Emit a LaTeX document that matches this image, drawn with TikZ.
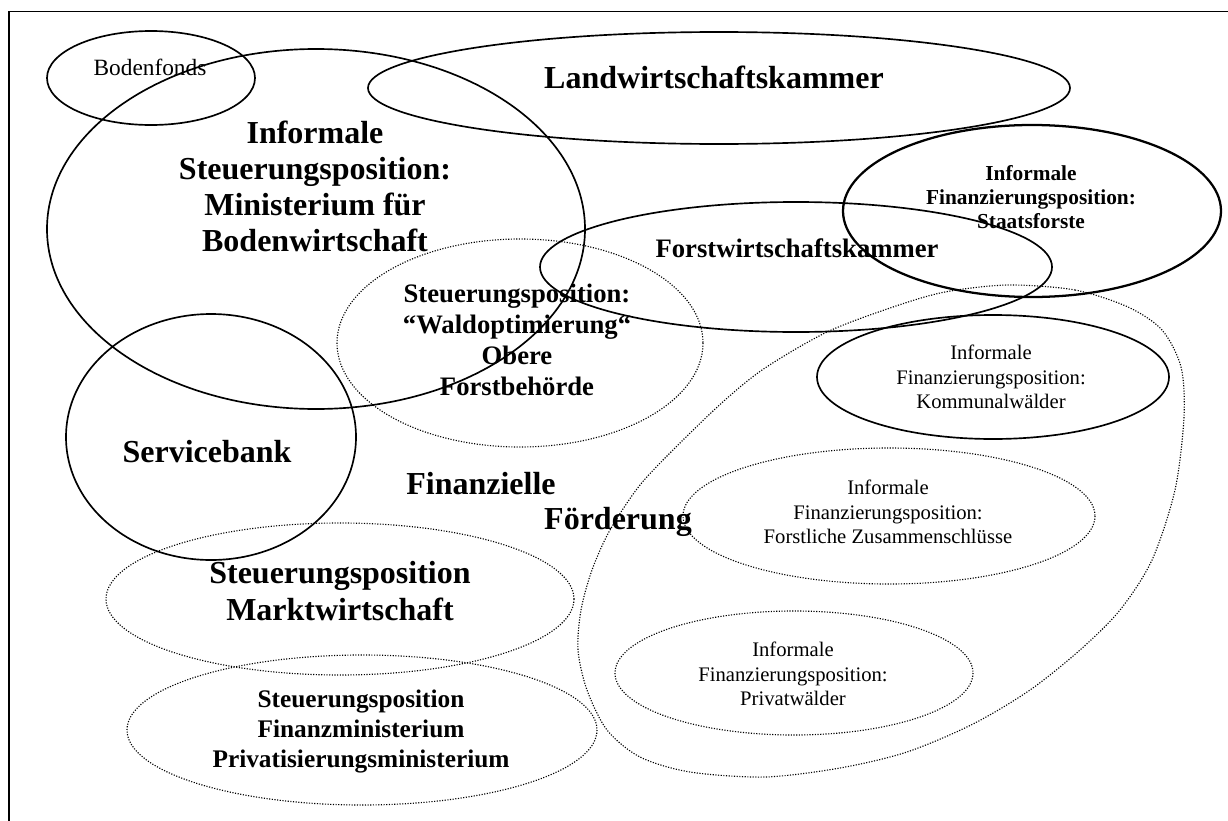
\documentclass[tikz,border=0pt]{standalone}
\usepackage{fontspec}
\setmainfont{Liberation Serif}
\begin{document}
\begin{tikzpicture}[x=0.75pt,y=-0.75pt,
  solidline/.style={line width=1.25pt},
  thickline/.style={line width=1.7pt},
  dotline/.style={line width=0.85pt, dash pattern=on 0.85pt off 1.15pt},
  lbl/.style={align=center, inner sep=0pt},
  bigbold/.style={lbl, font=\fontsize{24}{27}\selectfont\bfseries},
  midbold/.style={lbl, font=\fontsize{20}{23.25}\selectfont\bfseries},
  smallbold/.style={lbl, font=\fontsize{16}{18}\selectfont\bfseries},
  smallreg/.style={lbl, font=\fontsize{15.5}{18.5}\selectfont},
  ]
\useasboundingbox (0,0) rectangle (1228,821);
\fill[white] (0,0) rectangle (1228,821);
% frame
\draw[line width=1.4pt] (9,821) -- (9,11.5) -- (1228,11.5);

% solid ellipses
\draw[solidline] (151,78) ellipse [x radius=104, y radius=47];
\draw[solidline] (719,88) ellipse [x radius=351, y radius=56];
\draw[solidline] (316,229) ellipse [x radius=269, y radius=180];
\draw[solidline] (796,267) ellipse [x radius=256, y radius=65];
\draw[thickline] (1032,211) ellipse [x radius=189, y radius=86];
\draw[solidline] (993,377) ellipse [x radius=176, y radius=62];
\draw[solidline] (211,437) ellipse [x radius=145, y radius=123];

% dotted ellipses
\draw[dotline] (520,343) ellipse [x radius=183, y radius=104];
\draw[dotline] (889,516) ellipse [x radius=206, y radius=68];
\draw[dotline] (794,673) ellipse [x radius=179, y radius=62];
\draw[dotline] (340,599) ellipse [x radius=234, y radius=76];
\draw[dotline] (362,730) ellipse [x radius=235, y radius=75];
\draw[dotline] plot[smooth cycle] coordinates {
 (1008,285) (1075,290) (1128,307) (1162,330) (1181,367) (1184,417)
 (1175,490) (1152,560) (1120,610) (1080,650) (1030,690) (973,724)
 (907,752) (840,768) (765,777) (690,772) (640,757) (607,730)
 (587,690) (578,650) (581,610) (592,570) (610,530) (640,485)
 (680,443) (725,400) (765,368) (827,332) (893,307) (945,292)};

% labels
\node[lbl, font=\fontsize{17.5}{20}\selectfont] (bodenfonds) at (150,67) {Bodenfonds};
\node[bigbold] (lwk) at (714,77) {Landwirtschaftskammer};
\node[bigbold] (ministerium) at (315,186) {Informale\\Steuerungsposition:\\Ministerium für\\Bodenwirtschaft};
\node[midbold] (wald) at (517,340) {Steuerungsposition:\\“Waldoptimierung“\\Obere\\Forstbehörde};
\node[midbold] (fwk) at (797,248) {Forstwirtschaftskammer};
\node[smallbold] (staat) at (1031,197) {Informale\\Finanzierungsposition:\\Staatsforste};
\node[smallreg] (kommunal) at (991,377) {Informale\\Finanzierungsposition:\\Kommunalwälder};
\node[bigbold] (service) at (207,452) {Servicebank};
\node[bigbold] (finanzielle) at (481,484) {Finanzielle};
\node[bigbold] (foerderung) at (618,522) {Förderung};
\node[smallreg] (forstlich) at (888,512) {Informale\\Finanzierungsposition:\\Forstliche Zusammenschlüsse};
\node[smallreg] (privat) at (793,674) {Informale\\Finanzierungsposition:\\Privatwälder};
\node[lbl, font=\fontsize{24}{27.75}\selectfont\bfseries] (markt) at (340,591) {Steuerungsposition\\Marktwirtschaft};
\node[lbl, font=\fontsize{19}{22.5}\selectfont\bfseries] (finmin) at (361,731) {Steuerungsposition\\Finanzministerium\\Privatisierungsministerium};
\end{tikzpicture}
\end{document}
